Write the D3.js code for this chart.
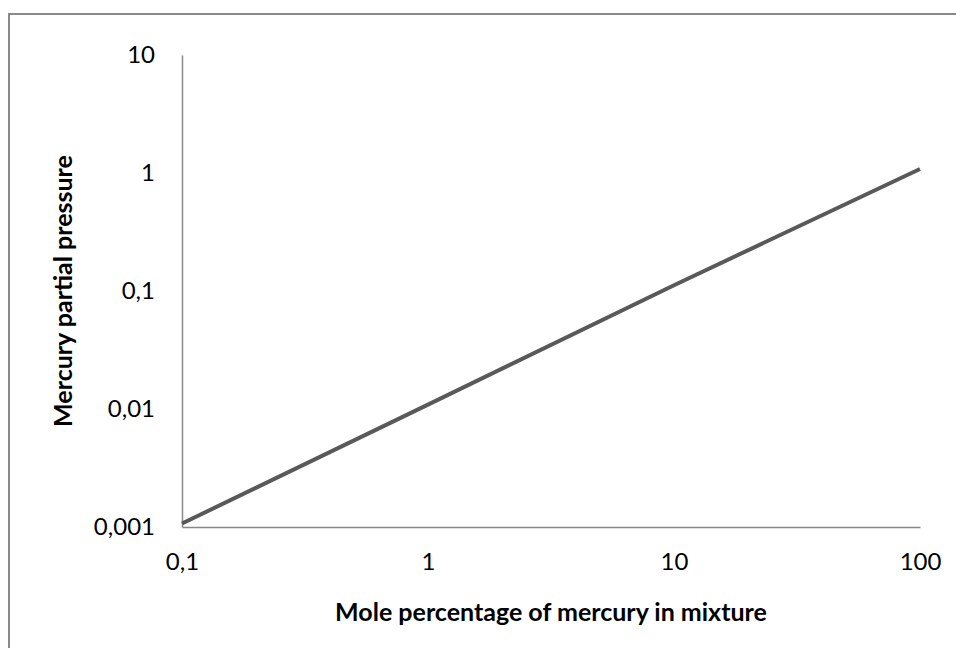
<!DOCTYPE html>
<html>
<head>
<meta charset="utf-8">
<script src="https://cdn.jsdelivr.net/npm/d3@7"></script>
<style>
  html, body { margin: 0; padding: 0; background: #fff; }
  svg { display: block; }
  text { font-family: Lato, "Open Sans", sans-serif; fill: #000; }
</style>
</head>
<body>
<svg id="chart" width="956" height="648"></svg>
<script>
// Data
const molePercent = [0.1, 1, 10, 100];
const partialPressure = [0.00107, 0.0109, 0.112, 1.08];
const xTicks = [0.1, 1, 10, 100];
const xTickLabels = ["0,1", "1", "10", "100"];
const yTicks = [0.001, 0.01, 0.1, 1, 10];
const yTickLabels = ["0,001", "0,01", "0,1", "1", "10"];
const xTitle = "Mole percentage of mercury in mixture";
const yTitle = "Mercury partial pressure";

const svg = d3.select("#chart");
const W = 956, H = 648;
const plot = { left: 182, right: 920, top: 55, bottom: 527 };

// Outer chart border (right & bottom edges fall outside the picture)
svg.append("rect")
  .attr("x", 9).attr("y", 14)
  .attr("width", W + 20).attr("height", H + 20)
  .attr("fill", "none").attr("stroke", "#898989").attr("stroke-width", 2);

const x = d3.scaleLog().domain([0.1, 100]).range([plot.left, plot.right]);
const y = d3.scaleLog().domain([0.001, 10]).range([plot.bottom, plot.top]);

// X axis
const xAxis = d3.axisBottom(x).tickValues(xTicks)
  .tickFormat((d, i) => xTickLabels[i]).tickSize(0).tickPadding(26);
const gx = svg.append("g").attr("transform", `translate(0,${plot.bottom})`).call(xAxis);
gx.select(".domain").attr("stroke", "#898989").attr("stroke-width", 1.5);
gx.selectAll("text").attr("font-size", 24).attr("font-family", "Lato, sans-serif").attr("fill", "#000");

// Y axis
const yAxis = d3.axisLeft(y).tickValues(yTicks)
  .tickFormat((d, i) => yTickLabels[i]).tickSize(0).tickPadding(27);
const gy = svg.append("g").attr("transform", `translate(${plot.left},0)`).call(yAxis);
gy.select(".domain").attr("stroke", "#898989").attr("stroke-width", 1.5);
gy.selectAll("text").attr("font-size", 24).attr("font-family", "Lato, sans-serif").attr("fill", "#000");

// Line
const line = d3.line().x((d, i) => x(molePercent[i])).y(d => y(d));
svg.append("path")
  .datum(partialPressure)
  .attr("d", line)
  .attr("fill", "none")
  .attr("stroke", "#595959")
  .attr("stroke-width", 4)
  .attr("stroke-linecap", "butt");

// Axis titles
svg.append("text")
  .attr("x", (plot.left + plot.right) / 2).attr("y", 621)
  .attr("text-anchor", "middle").attr("font-weight", "bold").attr("font-size", 25)
  .text(xTitle);

svg.append("text")
  .attr("transform", `translate(72,${(plot.top + plot.bottom) / 2}) rotate(-90)`)
  .attr("text-anchor", "middle").attr("font-weight", "bold").attr("font-size", 25)
  .text(yTitle);
</script>
</body>
</html>
